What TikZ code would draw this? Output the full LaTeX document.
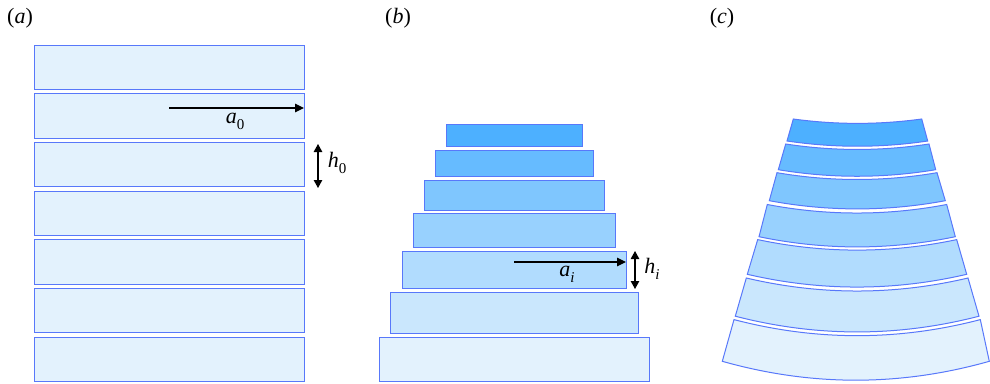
\documentclass[tikz,border=0pt]{standalone}
\usepackage{fontspec}
\setmainfont{Liberation Serif}
\usetikzlibrary{arrows.meta}
\definecolor{bord}{RGB}{88,120,250}
\definecolor{f1}{RGB}{77,176,255}
\definecolor{f2}{RGB}{102,187,255}
\definecolor{f3}{RGB}{127,198,254}
\definecolor{f4}{RGB}{152,209,254}
\definecolor{f5}{RGB}{177,220,254}
\definecolor{f6}{RGB}{202,231,253}
\definecolor{f7}{RGB}{227,242,253}
\newcommand{\subsc}[1]{\raisebox{-0.28em}{\fontsize{15}{15}\selectfont #1}}
\begin{document}
\begin{tikzpicture}[x=1pt,y=-1pt,
  blk/.style={draw=bord, line width=1pt, inner sep=0pt, outer sep=0pt, anchor=north west},
  seg/.style={draw=bord, line width=1pt, line join=miter},
  dimarrow/.style={line width=1.1pt, -{Triangle[length=9pt,width=8.5pt]}},
  dimboth/.style={line width=1.1pt, {Triangle[length=8pt,width=8.5pt]}-{Triangle[length=8pt,width=8.5pt]}},
  lab/.style={font=\fontsize{22}{22}\selectfont, inner sep=0pt},
  panel/.style={font=\fontsize{22}{22}\selectfont, inner sep=0pt}]
\useasboundingbox (0,0) rectangle (990,383);

% panel labels
\node[panel] (pa) at (20,18) {(\textit{a})};
\node[panel] (pb) at (398,18) {(\textit{b})};
\node[panel] (pc) at (722,18) {(\textit{c})};

% panel (a)
\foreach \i in {1,...,7} {
  \node[blk, fill=f7, minimum width=270pt, minimum height=44.5pt] (a\i) at (34,{45+(\i-1)*48.67}) {};
}
\coordinate (a0s) at (169,108);
\draw[dimarrow] (a0s) -- (a0s -| a2.east);
\node[lab] (a0l) at (235,121) {\textit{a}\subsc{0}};
\coordinate (h0t) at (318,144);
\coordinate (h0b) at (318,188);
\draw[dimboth] (h0t) -- (h0b);
\node[lab] (h0l) at (337,163) {\textit{h}\subsc{0}};

% panel (b)
\foreach \n/\xl/\yt/\w/\h/\c in {1/446/124/136/22/f1, 2/435/150/158/26/f2, 3/424/180/180/30/f3, 4/413/213/202/34/f4, 5/402/251/224/37/f5, 6/390/292/248/41/f6, 7/379/337/270/44/f7} {
  \node[blk, fill=\c, minimum width=\w pt, minimum height=\h pt] (b\n) at (\xl,\yt) {};
}
\coordinate (ais) at (514,262);
\draw[dimarrow] (ais) -- (ais -| b5.east);
\node[lab] (ail) at (567,274) {\textit{a}\subsc{\textit{i}}};
\coordinate (hit) at (635,251);
\coordinate (hib) at (635,289);
\draw[dimboth] (hit) -- (hib);
\node[lab] (hil) at (652,269) {\textit{h}\subsc{\textit{i}}};

% panel (c)
\foreach \txl/\txr/\ty/\bxl/\bxr/\by/\c in {
  793.3/921.7/119/787/927.7/141/f1,
  785.7/929/144/778.3/935.7/169.7/f2,
  777/937/172.7/769.3/945.3/200.7/f3,
  767.3/946.7/204.5/759/955.3/236.7/f4,
  757.7/956.7/239.6/747.3/966.7/274.3/f5,
  746.3/968/278/735.3/979/316.2/f6,
  734/980.3/319.6/722.3/989.3/361.3/f7} {
  \pgfmathsetmacro\thw{(\txr-\txl)/2}
  \pgfmathsetmacro\bhw{(\bxr-\bxl)/2}
  \pgfmathsetmacro\tsag{\thw*(\thw/944)}
  \pgfmathsetmacro\bsag{\bhw*(\bhw/944)}
  \draw[seg, fill=\c] (\txl,\ty)
    .. controls ({\txl+2/3*\thw},{\ty+4/3*\tsag}) and ({\txr-2/3*\thw},{\ty+4/3*\tsag}) .. (\txr,\ty)
    -- (\bxr,\by)
    .. controls ({\bxr-2/3*\bhw},{\by+4/3*\bsag}) and ({\bxl+2/3*\bhw},{\by+4/3*\bsag}) .. (\bxl,\by)
    -- cycle;
}
\end{tikzpicture}
\end{document}
